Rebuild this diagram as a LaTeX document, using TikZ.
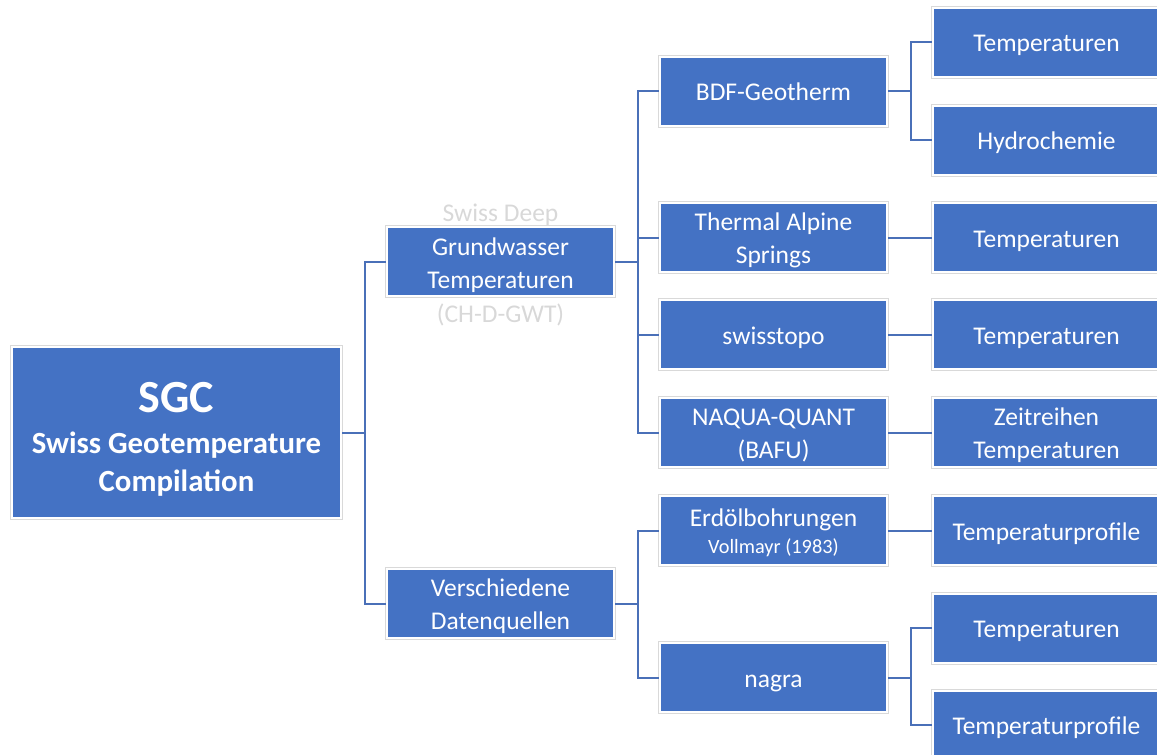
\documentclass[tikz,border=0pt]{standalone}
\usepackage{fontspec}
\setmainfont{Carlito}
\usepackage{xcolor}
\usetikzlibrary{positioning}
\definecolor{boxblue}{HTML}{4472C4}
\definecolor{lineblue}{HTML}{4A70B8}
\definecolor{ghost}{HTML}{D8D8D8}

\newcommand{\rows}[1]{\raisebox{-3pt}[\height][\depth]{\begin{tabular}[t]{@{}c@{}}#1\end{tabular}}}

\tikzset{
    box/.style={rectangle, fill=boxblue, draw=white, line width=2pt,
        preaction={draw=gray!30, line width=4pt},
        text=white, inner sep=0pt,
        minimum width=227pt, minimum height=69pt,
        font=\fontsize{25.5}{33.5}\selectfont},
    conn/.style={draw=lineblue, line width=2pt},
}

\begin{document}
\begin{tikzpicture}[x=1pt, y=-1pt]
    \useasboundingbox (0,0) rectangle (1157,755);

    % root
    \node[box, minimum width=329pt, minimum height=171pt,
          font=\bfseries\fontsize{30.8}{38}\selectfont] (sgc) at (176.5,432.5)
        {\raisebox{22.7pt}[0pt][0pt]{\rows{{\fontsize{46}{46}\selectfont SGC}\\[3pt]
          Swiss Geotemperature\\Compilation}}};

    % first level
    \node[box] (gw) at (500.5,261.5)
        {\raisebox{42.6pt}[0pt][0pt]{\rows{{\color{ghost}Swiss Deep}\\Grundwasser\\
          Temperaturen\\{\color{ghost}(CH-D-GWT)}}}};
    \node[box] (vq) at (500.5,603.5) {\rows{Verschiedene\\Datenquellen}};

    % second level
    \node[box] (bdf) at (773.5,91) {\rows{BDF-Geotherm}};
    \node[box] (tas) at (773.5,237.5) {\rows{Thermal Alpine\\Springs}};
    \node[box] (sto) at (773.5,334.5) {\rows{swisstopo}};
    \node[box] (naq) at (773.5,432.5) {\rows{NAQUA-QUANT\\(BAFU)}};
    \node[box] (erd) at (773.5,530.5)
        {\rows{Erdölbohrungen\\[-7pt]{\fontsize{20.3}{26}\selectfont Vollmayr (1983)}}};
    \node[box] (nag) at (773.5,677.5) {\rows{nagra}};

    % third level
    \node[box] (tA) at (1046.5,42) {\rows{Temperaturen}};
    \node[box] (hyd) at (1046.5,140) {\rows{Hydrochemie}};
    \node[box] (tB) at (1046.5,237.5) {\rows{Temperaturen}};
    \node[box] (tC) at (1046.5,334.5) {\rows{Temperaturen}};
    \node[box] (zr) at (1046.5,432.5) {\rows{Zeitreihen\\Temperaturen}};
    \node[box] (tpA) at (1046.5,530.5) {\rows{Temperaturprofile}};
    \node[box] (tD) at (1046.5,628) {\rows{Temperaturen}};
    \node[box] (tpB) at (1046.5,725) {\rows{Temperaturprofile}};

    % connectors
    \foreach \a/\b in {sgc/gw, sgc/vq, gw/bdf, gw/tas, gw/sto, gw/naq,
                       vq/erd, vq/nag, bdf/tA, bdf/hyd, nag/tD, nag/tpB} {
        \draw[conn] (\a.east) -- ++(23,0) |- (\b.west);
    }
    \foreach \a/\b in {tas/tB, sto/tC, naq/zr, erd/tpA} {
        \draw[conn] (\a.east) -- (\b.west);
    }
\end{tikzpicture}
\end{document}
